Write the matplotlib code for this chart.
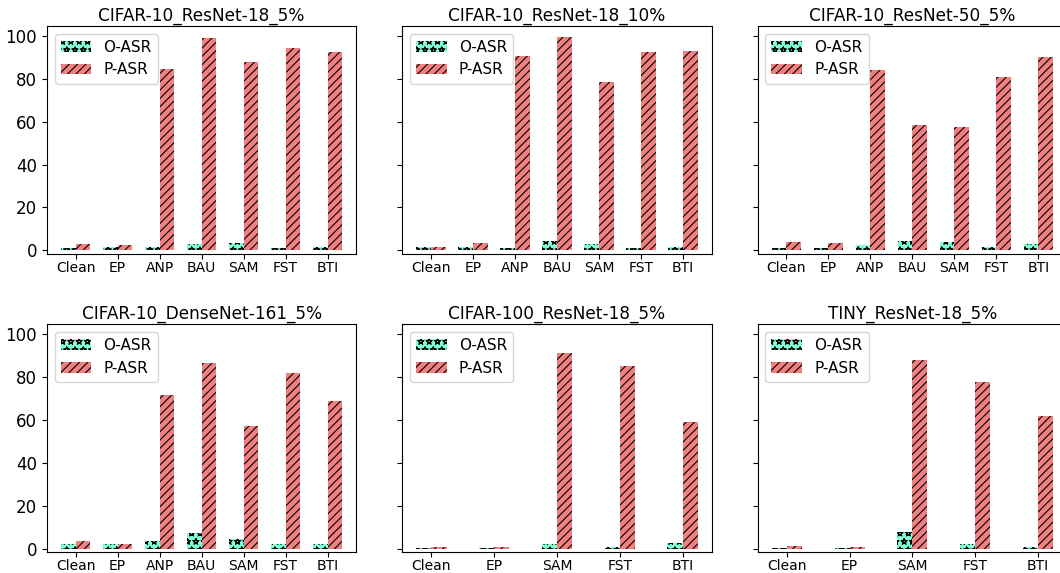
import numpy as np
import matplotlib
matplotlib.use('Agg')
import matplotlib.pyplot as plt
import matplotlib.hatch

cats7 = ['Clean', 'EP', 'ANP', 'BAU', 'SAM', 'FST', 'BTI']
cats5 = ['Clean', 'EP', 'SAM', 'FST', 'BTI']

titles = ['CIFAR-10_ResNet-18_5%', 'CIFAR-10_ResNet-18_10%', 'CIFAR-10_ResNet-50_5%',
          'CIFAR-10_DenseNet-161_5%', 'CIFAR-100_ResNet-18_5%', 'TINY_ResNet-18_5%']

# O-ASR / P-ASR for each panel
o_r18_5 = [1.2, 1.5, 1.5, 3.1, 3.4, 1.1, 1.5]
p_r18_5 = [2.9, 2.5, 84.3, 98.8, 87.8, 94.1, 92.2]

o_r18_10 = [1.4, 1.4, 1.2, 4.5, 3.1, 1.2, 1.7]
p_r18_10 = [1.7, 3.6, 90.5, 99.4, 78.6, 92.6, 92.9]

o_r50_5 = [1.2, 1.2, 2.5, 4.5, 3.9, 1.5, 2.9]
p_r50_5 = [3.9, 3.4, 83.9, 58.3, 57.4, 80.6, 89.9]

o_d161_5 = [1.9, 1.9, 3.3, 7.2, 4.4, 2.3, 1.9]
p_d161_5 = [3.3, 2.3, 71.5, 86.4, 57.2, 81.8, 68.7]

o_c100_5 = [0.5, 0.5, 2.3, 0.9, 2.8]
p_c100_5 = [0.9, 0.9, 91.1, 85.0, 58.9]

o_tiny_5 = [0.5, 0.5, 7.5, 1.9, 0.9]
p_tiny_5 = [1.4, 0.9, 87.9, 77.6, 61.7]

panels = [
    (cats7, o_r18_5, p_r18_5),
    (cats7, o_r18_10, p_r18_10),
    (cats7, o_r50_5, p_r50_5),
    (cats7, o_d161_5, p_d161_5),
    (cats5, o_c100_5, p_c100_5),
    (cats5, o_tiny_5, p_tiny_5),
]

# hollow stars like the original
matplotlib.hatch.Stars.filled = False
plt.rcParams['hatch.linewidth'] = 0.8

fig, axes = plt.subplots(2, 3, figsize=(10.6, 5.73), dpi=100, sharey=True)
plt.subplots_adjust(left=0.0443, right=1.0066, top=0.9546, bottom=0.037,
                    wspace=0.149, hspace=0.31)

for ax, title, (cats, o, p) in zip(axes.flat, titles, panels):
    x = np.arange(len(cats))
    w = 0.35 if len(cats) == 7 else 0.24
    ax.bar(x - w/2, o, w, color='aquamarine', hatch='**', label='O-ASR', linewidth=0)
    ax.bar(x + w/2, p, w, color='lightcoral', hatch='////', label='P-ASR', linewidth=0)
    ax.set_xticks(x)
    ax.set_xticklabels(cats, fontsize=10)
    ax.tick_params(axis='x', pad=1.5)
    ax.tick_params(axis='y', labelsize=12)
    ax.set_title(title, fontsize=12.2, pad=4)
    ax.legend(loc='upper left', fontsize=11)
    ax.set_ylim(-1.5, 104.5)
    ax.set_yticks([0, 20, 40, 60, 80, 100])

plt.savefig('out.png', dpi=100)
